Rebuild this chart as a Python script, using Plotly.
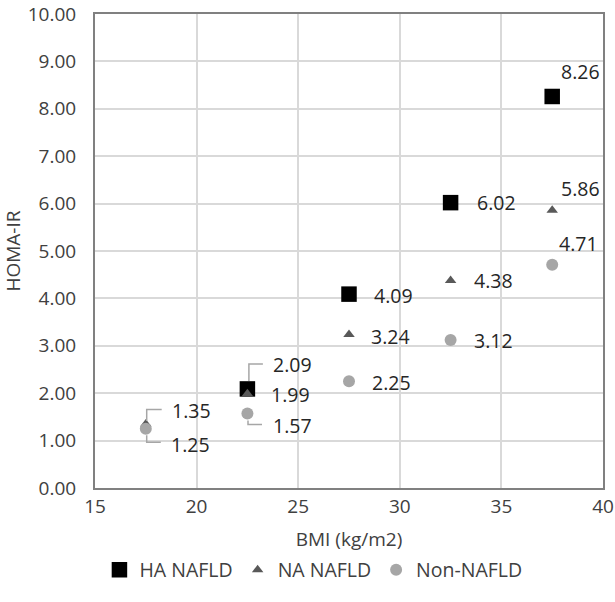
import plotly.graph_objects as go

# ---- data ----
bmi = [17.5, 22.5, 27.5, 32.5, 37.5]
ha_x = [22.5, 27.5, 32.5, 37.5]
ha_nafld = [2.09, 4.09, 6.02, 8.26]
na_nafld = [1.35, 1.99, 3.24, 4.38, 5.86]
non_nafld = [1.25, 1.57, 2.25, 3.12, 4.71]
series_names = ["HA NAFLD", "NA NAFLD", "Non-NAFLD"]
x_title = "BMI (kg/m2)"
y_title = "HOMA-IR"

FONT = "Open Sans"
C_HA, C_NA, C_NON = "#000000", "#595959", "#a6a6a6"
LEADER = "#a6a6a6"
TXT = "#262626"

fig = go.Figure()
fig.add_trace(go.Scatter(x=ha_x, y=ha_nafld, mode="markers", name=series_names[0],
                         marker=dict(symbol="square", size=15.5, color=C_HA)))
fig.add_trace(go.Scatter(x=bmi, y=na_nafld, mode="markers", name=series_names[1],
                         marker=dict(symbol="triangle-up", size=10, color=C_NA)))
fig.add_trace(go.Scatter(x=bmi, y=non_nafld, mode="markers", name=series_names[2],
                         marker=dict(symbol="circle", size=12, color=C_NON)))

# label placement: (xshift to left edge, yshift up) in pixels
ha_off = [(24, 24), (23, -1), (24.5, 0), (7, 25)]
na_off = [(24, 13.5), (21.5, -1), (19.5, -2), (21, 0), (7, 21.5)]
non_off = [(23, -15.5), (23.5, -12), (21, -1.5), (21, 0), (5, 21)]

annotations = []
for xs, ys, offs in ((ha_x, ha_nafld, ha_off), (bmi, na_nafld, na_off), (bmi, non_nafld, non_off)):
    for xv, yv, (dx, dy) in zip(xs, ys, offs):
        annotations.append(dict(x=xv, y=yv, xref="x", yref="y", text=f"{yv:.2f}",
                                showarrow=False, xanchor="left", yanchor="middle",
                                xshift=dx, yshift=dy,
                                font=dict(family=FONT, size=19.5, color=TXT)))

# elbow leader lines (pixel offsets relative to the data point, y up)
shapes = []
def leader(xv, yv, pts):
    path = "M " + " L ".join(f"{px},{py}" for px, py in pts)
    shapes.append(dict(type="path", xref="x", yref="y", xsizemode="pixel", ysizemode="pixel",
                       xanchor=xv, yanchor=yv, path=path,
                       line=dict(color=LEADER, width=1.5)))

leader(ha_x[0], ha_nafld[0], [(1.5, 8), (1.5, 25), (15.5, 25)])
leader(bmi[1], non_nafld[1], [(0.6, -7), (0.6, -11), (14.6, -11)])
leader(bmi[0], na_nafld[0], [(0.9, 3), (0.9, 14.5), (15.9, 14.5)])
leader(bmi[0], non_nafld[0], [(0.9, -6.5), (0.9, -13.5), (15, -13.5)])

axis_common = dict(showline=True, mirror=True, linecolor="#808080", linewidth=2,
                   showgrid=True, gridcolor="#d9d9d9", gridwidth=2, zeroline=False,
                   ticks="", ticklabeloverflow="allow",
                   tickfont=dict(family=FONT, size=19, color="#404040"))

fig.update_layout(
    width=615, height=602,
    margin=dict(l=95, r=12, t=14, b=100),
    paper_bgcolor="white", plot_bgcolor="white",
    font=dict(family=FONT, color="#404040"),
    xaxis=dict(range=[15, 40], dtick=5, tick0=15, ticklabelstandoff=0,
               title=dict(text=x_title, font=dict(family=FONT, size=19, color="#404040"), standoff=15),
               automargin=False, **axis_common),
    yaxis=dict(range=[0, 10], dtick=1, tick0=0, tickformat=".2f", ticklabelstandoff=13,
               title=dict(text=y_title, font=dict(family=FONT, size=19, color="#404040"), standoff=9),
               automargin=False, **axis_common),
    showlegend=True,
    legend=dict(orientation="h", x=0.43, xanchor="center", y=-0.173, yanchor="middle",
                font=dict(family=FONT, size=19.5, color="#404040"), itemwidth=30,
                bgcolor="rgba(0,0,0,0)"),
    annotations=annotations,
    shapes=shapes,
)

fig.write_html("out.html", config={"displayModeBar": False},
               post_script="document.body.style.margin='0';document.body.style.overflow='hidden';")
